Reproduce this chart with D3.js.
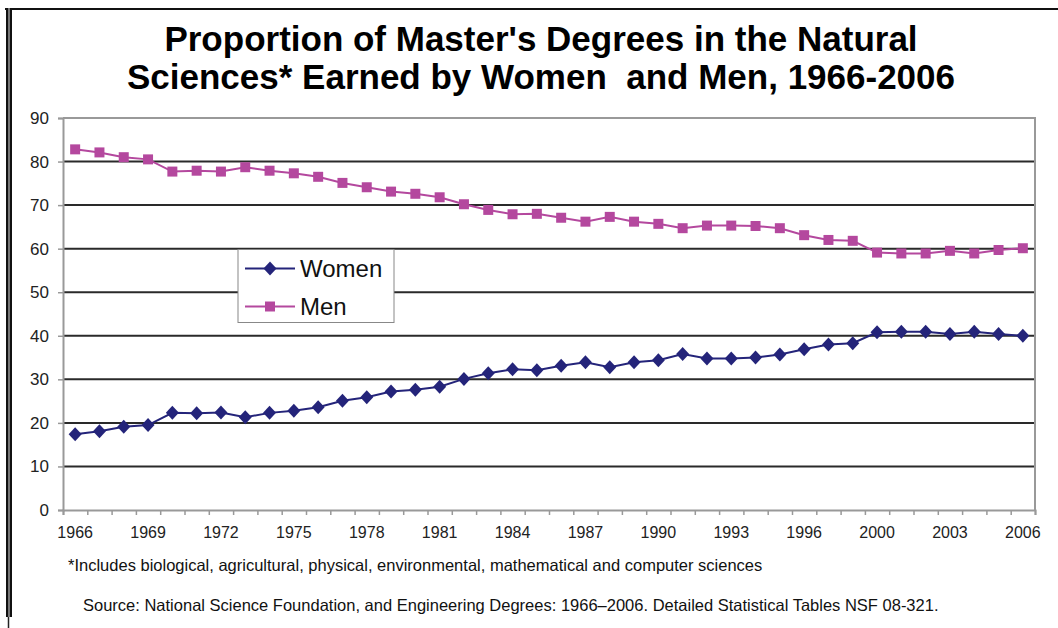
<!DOCTYPE html>
<html>
<head>
<meta charset="utf-8">
<script src="https://cdn.jsdelivr.net/npm/d3@7"></script>
<style>
  body { margin: 0; background: #fff; }
  svg { display: block; font-family: "Liberation Sans", Arial, sans-serif; }
</style>
</head>
<body>
<div id="chart"></div>
<script>
// categories (NSF tables have no 1999 entry)
var years = [1966, 1967, 1968, 1969, 1970, 1971, 1972, 1973, 1974, 1975,
             1976, 1977, 1978, 1979, 1980, 1981, 1982, 1983, 1984, 1985,
             1986, 1987, 1988, 1989, 1990, 1991, 1992, 1993, 1994, 1995,
             1996, 1997, 1998, 2000, 2001, 2002, 2003, 2004, 2005, 2006];

var women = [17.4, 18.1, 19.1, 19.5, 22.3, 22.2, 22.4, 21.3, 22.3, 22.8,
             23.6, 25.1, 25.9, 27.2, 27.6, 28.3, 30.1, 31.4, 32.3, 32.1,
             33.1, 33.9, 32.8, 33.9, 34.4, 35.8, 34.8, 34.8, 35.0, 35.7,
             36.9, 38.0, 38.3, 40.8, 40.9, 40.9, 40.4, 40.9, 40.4, 40.0];

var men = [82.8, 82.1, 81.0, 80.5, 77.7, 77.9, 77.7, 78.7, 77.9, 77.3,
           76.5, 75.1, 74.1, 73.1, 72.6, 71.8, 70.2, 68.9, 67.9, 68.0,
           67.1, 66.2, 67.3, 66.2, 65.7, 64.7, 65.3, 65.3, 65.2, 64.7,
           63.1, 62.0, 61.8, 59.1, 58.9, 58.9, 59.5, 58.9, 59.7, 60.1];

var xLabels = [1966, 1969, 1972, 1975, 1978, 1981, 1984, 1987, 1990, 1993, 1996, 2000, 2003, 2006];
var yTicks = [0, 10, 20, 30, 40, 50, 60, 70, 80, 90];

var seriesNames = ["Women", "Men"];
var colors = { Women: "#24247a", Men: "#b4489e" };

var W = 1058, H = 628;
var plot = { left: 63, right: 1035, top: 118, bottom: 510 };

var svg = d3.select("#chart").append("svg")
    .attr("width", W)
    .attr("height", H);

svg.append("rect").attr("width", W).attr("height", H).attr("fill", "#fff");

// outer frame (top + doubled left rule)
svg.append("line").attr("x1", 5).attr("x2", W).attr("y1", 9).attr("y2", 9)
    .attr("stroke", "#111").attr("stroke-width", 2);
svg.append("rect").attr("x", 6).attr("y", 8).attr("width", 6).attr("height", 609).attr("fill", "#777");
svg.append("rect").attr("x", 6).attr("y", 8).attr("width", 2).attr("height", 609).attr("fill", "#111");
svg.append("rect").attr("x", 10).attr("y", 8).attr("width", 2).attr("height", 609).attr("fill", "#111");
svg.append("line").attr("x1", 8.5).attr("x2", 8.5).attr("y1", 617).attr("y2", H)
    .attr("stroke", "#222").attr("stroke-width", 1.5);

// title
var title = svg.append("text")
    .attr("text-anchor", "middle")
    .attr("font-size", 35)
    .attr("font-weight", "bold")
    .attr("fill", "#000")
    .style("white-space", "pre");
title.append("tspan").attr("x", 541).attr("y", 51).text("Proportion of Master's Degrees in the Natural");
title.append("tspan").attr("x", 541).attr("y", 89).text("Sciences* Earned by Women  and Men, 1966-2006");

var x = d3.scaleBand().domain(years).range([plot.left, plot.right]);
var xEdge = d3.scaleLinear().domain([0, years.length]).range([plot.left, plot.right]);
var y = d3.scaleLinear().domain([0, 90]).range([plot.bottom, plot.top]);

function cx(i) { return x(years[i]) + x.bandwidth() / 2; }

// gridlines
svg.append("g")
  .selectAll("line")
  .data(yTicks.filter(function(d) { return d > 0 && d < 90; }))
  .enter().append("line")
    .attr("x1", plot.left).attr("x2", plot.right)
    .attr("y1", function(d) { return y(d); })
    .attr("y2", function(d) { return y(d); })
    .attr("stroke", "#2a2a2a")
    .attr("stroke-width", 2);

// plot border
svg.append("path")
    .attr("d", "M" + plot.left + "," + y(90) + "H" + plot.right + "V" + y(0))
    .attr("fill", "none").attr("stroke", "#999").attr("stroke-width", 2);

// y axis
var yAxis = svg.append("g")
    .attr("transform", "translate(" + plot.left + ",0)")
    .call(d3.axisLeft(y).tickValues(yTicks).tickSize(5).tickPadding(9));
yAxis.select(".domain").attr("stroke", "#999").attr("stroke-width", 2);
yAxis.selectAll(".tick line").attr("stroke", "#999").attr("stroke-width", 1.5);
yAxis.selectAll(".tick text").attr("font-size", 17).attr("fill", "#222")
    .attr("font-family", "Liberation Sans, Arial, sans-serif");

// x axis: ticks between categories
var xTickAxis = svg.append("g")
    .attr("transform", "translate(0," + plot.bottom + ")")
    .call(d3.axisBottom(xEdge).tickValues(d3.range(years.length + 1)).tickSize(5).tickFormat(""));
xTickAxis.select(".domain").attr("stroke", "#999").attr("stroke-width", 2);
xTickAxis.selectAll(".tick line").attr("stroke", "#999").attr("stroke-width", 1.5);

var xLabelAxis = svg.append("g")
    .attr("transform", "translate(0," + plot.bottom + ")")
    .call(d3.axisBottom(x).tickValues(xLabels).tickSize(0).tickPadding(17));
xLabelAxis.select(".domain").remove();
xLabelAxis.selectAll(".tick text").attr("font-size", 16).attr("fill", "#222")
    .attr("font-family", "Liberation Sans, Arial, sans-serif");

// series
var line = d3.line()
    .x(function(d, i) { return cx(i); })
    .y(function(d) { return y(d); });

var diamond = "M0,-7L6.5,0L0,7L-6.5,0Z";
var square = d3.symbol().type(d3.symbolSquare).size(100)();

[["Women", women, diamond], ["Men", men, square]].forEach(function(s) {
  var g = svg.append("g");
  g.append("path")
    .datum(s[1])
    .attr("d", line)
    .attr("fill", "none")
    .attr("stroke", colors[s[0]])
    .attr("stroke-width", 2);
  g.selectAll(".pt")
    .data(s[1])
    .enter().append("path")
      .attr("class", "pt")
      .attr("d", s[2])
      .attr("transform", function(d, i) { return "translate(" + cx(i) + "," + y(d) + ")"; })
      .attr("fill", colors[s[0]]);
});

// legend
var legend = svg.append("g").attr("transform", "translate(238,249.5)");
legend.append("rect")
    .attr("width", 156).attr("height", 73)
    .attr("fill", "#fff").attr("stroke", "#888").attr("stroke-width", 1);
var shapes = { Women: diamond, Men: square };
seriesNames.forEach(function(name, i) {
  var ly = 19 + i * 38;
  legend.append("line")
    .attr("x1", 7).attr("x2", 57).attr("y1", ly).attr("y2", ly)
    .attr("stroke", colors[name]).attr("stroke-width", 2);
  legend.append("path")
    .attr("d", shapes[name])
    .attr("transform", "translate(32," + ly + ")")
    .attr("fill", colors[name]);
  legend.append("text")
    .attr("x", 62).attr("y", ly)
    .attr("dy", "0.35em")
    .attr("font-size", 24)
    .attr("fill", "#111")
    .text(name);
});

// notes
svg.append("text")
    .attr("x", 68).attr("y", 571)
    .attr("font-size", 16.5)
    .attr("fill", "#111")
    .text("*Includes biological, agricultural, physical, environmental, mathematical and computer sciences");

svg.append("text")
    .attr("x", 83).attr("y", 611)
    .attr("font-size", 16.5)
    .attr("fill", "#111")
    .text("Source: National Science Foundation, and Engineering Degrees: 1966\u20132006. Detailed Statistical Tables NSF 08-321.");
</script>
</body>
</html>
